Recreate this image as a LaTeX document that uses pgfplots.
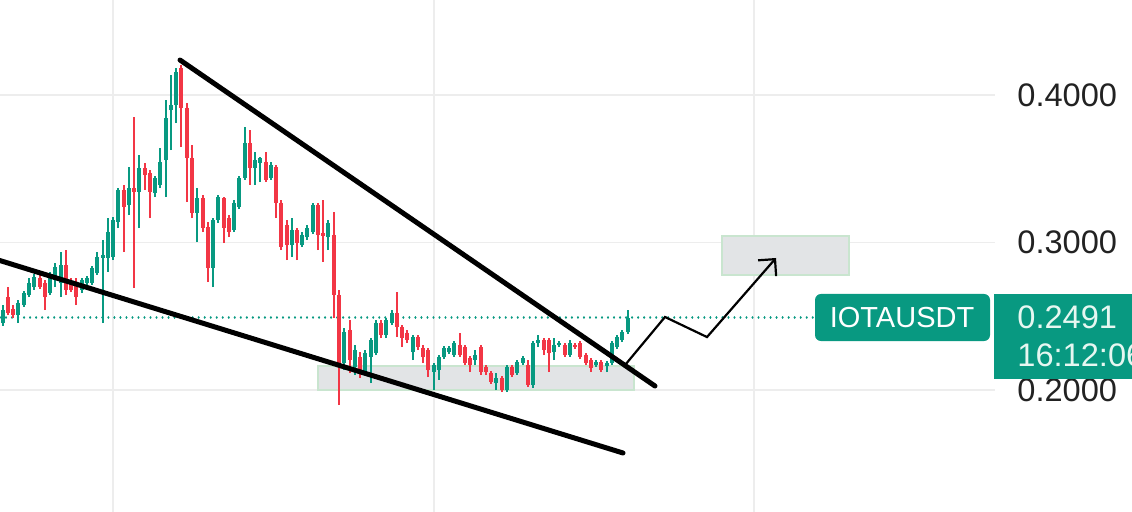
\documentclass[border=0pt]{standalone}
\usepackage{pgfplots}
\pgfplotsset{compat=1.18}
\usepackage{pgfplotstable}
\usepackage{fontspec}
\setmainfont{Liberation Sans}
\usetikzlibrary{arrows.meta}
\definecolor{tvgreen}{HTML}{089981}
\definecolor{tvred}{HTML}{F23645}
\definecolor{gridc}{HTML}{EDEDED}
\definecolor{boxfill}{HTML}{E2E4E6}
\definecolor{boxedge}{HTML}{C9E5CF}
\definecolor{labc}{HTML}{222222}
\definecolor{pricetxt}{HTML}{E6F7F1}

\pgfplotstableread{
x o h l c
3 .2454 .2576 .2434 .2542
18 .2508 .2610 .2454 .2590
24 .2576 .2671 .2563 .2657
29 .2644 .2759 .2630 .2725
34 .2698 .2786 .2678 .2766
50 .2657 .2800 .2644 .2766
55 .2746 .2861 .2698 .2834
61 .2725 .2935 .2630 .2847
82 .2678 .2759 .2657 .2746
87 .2725 .2773 .2705 .2759
92 .2725 .2841 .2712 .2827
97 .2793 .2935 .2780 .2902
103 .2895 .3017 .2454 .2915
108 .2895 .3166 .2800 .3071
113 .2902 .3173 .2881 .3152
118 .3139 .3369 .3098 .3356
129 .3254 .3512 .3186 .3369
139 .3342 .3593 .3098 .3505
155 .3335 .3451 .3308 .3437
160 .3390 .3641 .3369 .3546
166 .3559 .3966 .3308 .3844
171 .3898 .4135 .3627 .3932
176 .3932 .4183 .3810 .4156
197 .3200 .3369 .3003 .3302
213 .2827 .3166 .2698 .3152
218 .3152 .3322 .3132 .3308
234 .3085 .3288 .3071 .3268
239 .3241 .3451 .3227 .3437
245 .3437 .3783 .3424 .3674
255 .3505 .3613 .3390 .3559
260 .3539 .3580 .3410 .3573
271 .3437 .3546 .3424 .3525
292 .2983 .3166 .2902 .3085
302 .2983 .3071 .2969 .3051
307 .3037 .3118 .3017 .3098
313 .3071 .3268 .3057 .3254
328 .3037 .3152 .2949 .3132
344 .2183 .2420 .2135 .2393
355 .2156 .2305 .2102 .2271
365 .2115 .2271 .2102 .2251
371 .2224 .2352 .2047 .2339
376 .2251 .2474 .2237 .2454
386 .2373 .2488 .2352 .2474
392 .2454 .2542 .2440 .2522
413 .2257 .2373 .2203 .2359
434 .2122 .2183 .2000 .2169
439 .2135 .2237 .2068 .2224
444 .2224 .2298 .2210 .2285
449 .2257 .2298 .2244 .2285
454 .2237 .2332 .2224 .2318
475 .2203 .2271 .2169 .2237
496 .2047 .2115 .2000 .2081
507 .2000 .2169 .1986 .2156
517 .2115 .2203 .2102 .2190
523 .2183 .2230 .2169 .2217
533 .2034 .2332 .2013 .2318
538 .2318 .2373 .2291 .2339
554 .2257 .2352 .2203 .2305
559 .2305 .2332 .2291 .2318
570 .2237 .2339 .2224 .2318
596 .2169 .2203 .2156 .2190
607 .2163 .2196 .2122 .2183
612 .2183 .2332 .2169 .2318
617 .2291 .2373 .2278 .2359
622 .2339 .2407 .2325 .2393
628 .2393 .2542 .2379 .2491
}\greentab

\pgfplotstableread{
x o h l c
8 .2630 .2698 .2508 .2522
13 .2549 .2576 .2488 .2508
40 .2759 .2793 .2685 .2698
45 .2725 .2746 .2542 .2630
66 .2847 .2949 .2644 .2678
71 .2732 .2759 .2664 .2678
76 .2725 .2759 .2576 .2630
124 .3356 .3390 .2935 .3241
134 .3369 .3851 .2691 .3342
145 .3505 .3539 .3356 .3458
150 .3471 .3491 .3166 .3342
181 .4183 .4203 .3647 .3912
187 .3912 .3946 .3274 .3573
192 .3573 .3661 .3166 .3200
203 .3302 .3322 .3071 .3098
208 .3105 .3139 .2732 .2827
224 .3302 .3308 .2996 .3098
229 .3166 .3186 .3037 .3071
250 .3674 .3763 .3390 .3505
266 .3546 .3613 .3410 .3424
276 .3512 .3525 .3166 .3268
281 .3268 .3288 .2949 .2969
287 .3118 .3152 .2881 .2983
297 .3085 .3098 .2881 .2996
318 .3254 .3268 .2949 .3051
323 .3064 .3288 .2868 .3044
334 .3051 .3207 .2488 .2644
339 .2644 .2678 .1898 .2183
350 .2407 .2474 .2115 .2203
360 .2224 .2257 .2081 .2135
381 .2454 .2474 .2352 .2373
397 .2522 .2664 .2359 .2427
402 .2427 .2440 .2291 .2352
407 .2386 .2407 .2318 .2339
418 .2359 .2373 .2271 .2291
423 .2285 .2305 .2183 .2224
428 .2271 .2285 .2088 .2135
460 .2305 .2386 .2224 .2237
465 .2291 .2305 .2169 .2183
470 .2217 .2230 .2122 .2169
481 .2291 .2305 .2102 .2122
486 .2156 .2169 .2102 .2122
491 .2115 .2129 .2041 .2054
502 .2081 .2095 .1986 .2000
512 .2156 .2169 .2088 .2102
528 .2169 .2203 .2020 .2034
544 .2339 .2352 .2237 .2271
549 .2339 .2352 .2122 .2251
565 .2305 .2318 .2224 .2237
575 .2305 .2318 .2278 .2291
580 .2318 .2332 .2210 .2224
586 .2237 .2251 .2169 .2183
591 .2203 .2217 .2122 .2149
601 .2190 .2203 .2122 .2135
}\redtab

\begin{document}
\begin{tikzpicture}
\begin{axis}[
  width=566pt, height=256pt, scale only axis,
  xmin=0, xmax=1132, ymin=0.1173, ymax=0.4644,
  axis lines=none,
]
% grid
\draw[gridc, line width=0.6pt] (113,0.1173) -- (113,0.4644);
\draw[gridc, line width=0.6pt] (434,0.1173) -- (434,0.4644);
\draw[gridc, line width=0.6pt] (754,0.1173) -- (754,0.4644);
\draw[gridc, line width=0.6pt] (0,0.4) -- (995,0.4);
\draw[gridc, line width=0.6pt] (0,0.3) -- (995,0.3);
\draw[gridc, line width=0.6pt] (0,0.2) -- (995,0.2);
% boxes
\draw[boxedge, fill=boxfill, line width=0.6pt] (318,0.2163) rectangle (634,0.2000);
\draw[boxedge, fill=boxfill, line width=0.6pt] (722,0.3044) rectangle (849,0.2780);
% last price dotted line
\draw[tvgreen, line width=1.1pt, line cap=round, dash pattern=on 0.01pt off 3pt] (0,0.2491) -- (815,0.2491);
% candles: wicks
\addplot[tvred, line width=0.65pt, quiver={u=0, v=\thisrow{h}-\thisrow{l}}] table[x=x, y=l] {\redtab};
\addplot[tvgreen, line width=0.65pt, quiver={u=0, v=\thisrow{h}-\thisrow{l}}] table[x=x, y=l] {\greentab};
% candles: bodies
\addplot[tvred, line width=2.1pt, quiver={u=0, v=\thisrow{c}-\thisrow{o}}] table[x=x, y=o] {\redtab};
\addplot[tvgreen, line width=2.1pt, quiver={u=0, v=\thisrow{c}-\thisrow{o}}] table[x=x, y=o] {\greentab};
% trend lines
\draw[black, line width=2.5pt, line cap=round] (180,0.4237) -- (655,0.2027);
\draw[black, line width=2.5pt, line cap=round] (-5,0.2888) -- (623,0.1573);
% projection arrow
\draw[black, line width=1.1pt, line join=miter, -{Straight Barb[length=6pt, width=12pt, line width=1.1pt]}]
  (625,0.2169) -- (665,0.2495) -- (707,0.2359) -- (776,0.2895);
% price axis labels
\node[anchor=west, inner sep=0pt, text=labc, font=\fontsize{16.3}{18}\selectfont] at (1017,0.4) {0.4000};
\node[anchor=west, inner sep=0pt, text=labc, font=\fontsize{16.3}{18}\selectfont] at (1017,0.3) {0.3000};
\node[anchor=west, inner sep=0pt, text=labc, font=\fontsize{16.3}{18}\selectfont] at (1017,0.2) {0.2000};
% symbol label
\fill[tvgreen, rounded corners=3pt] (815,0.2651) rectangle (990,0.2332);
\node[text=white, inner sep=0pt, font=\fontsize{14.5}{16}\selectfont] at (902,0.2491) {IOTAUSDT};
% price label
\fill[tvgreen] (994,0.2651) rectangle (1140,0.2075);
\node[anchor=west, inner sep=0pt, text=pricetxt, font=\fontsize{16.3}{18}\selectfont] at (1017,0.2491) {0.2491};
\node[anchor=west, inner sep=0pt, text=pricetxt, font=\fontsize{16.3}{18}\selectfont] at (1017,0.2237) {16:12:06};
\end{axis}
\pgfresetboundingbox
\useasboundingbox (current axis.south west) rectangle (current axis.north east);
\end{tikzpicture}
\end{document}
